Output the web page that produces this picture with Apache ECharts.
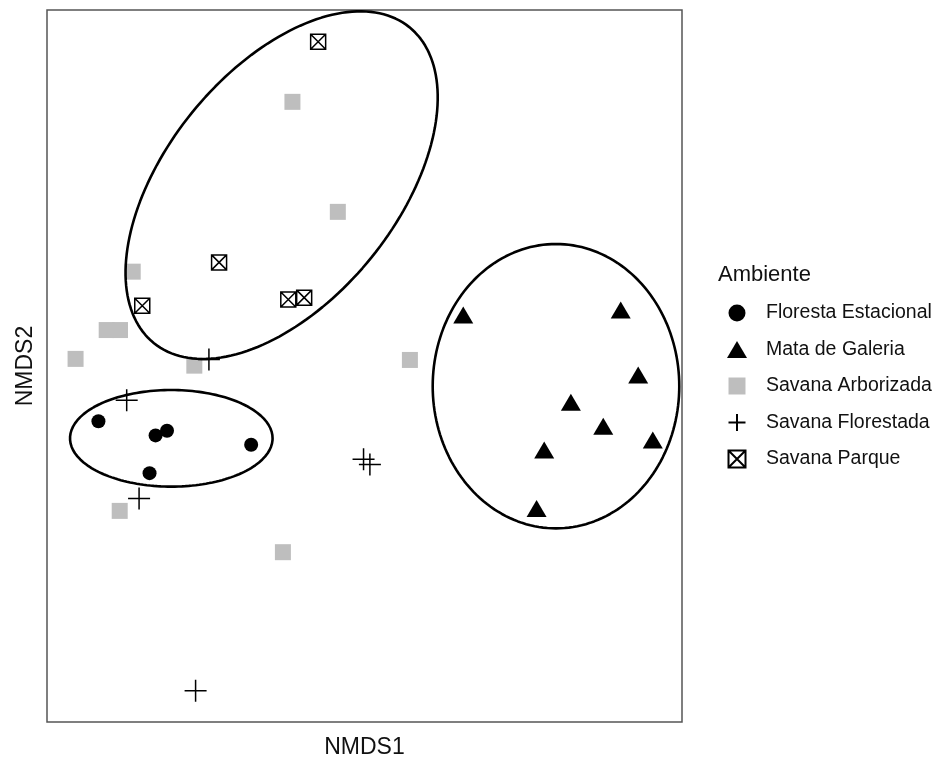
<!DOCTYPE html>
<html>
<head>
<meta charset="utf-8">
<script src="https://cdn.jsdelivr.net/npm/echarts@6/dist/echarts.min.js"></script>
<style>html,body{margin:0;padding:0;background:#fff}#c{width:935px;height:762px}</style>
</head>
<body>
<div id="c"></div>
<script>
// Ambientes (legend order)
var categories = ['Floresta Estacional', 'Mata de Galeria', 'Savana Arborizada', 'Savana Florestada', 'Savana Parque'];

// NMDS scores [NMDS1, NMDS2]
var florestaEstacional = [[-0.838,-0.155],[-0.658,-0.195],[-0.622,-0.182],[-0.357,-0.221],[-0.677,-0.301]];
var mataDeGaleria = [[0.311,0.143],[0.807,0.157],[0.862,-0.025],[0.650,-0.102],[0.752,-0.169],[0.908,-0.208],[0.566,-0.236],[0.542,-0.400]];
var savanaArborizada = [[-0.227,0.742],[-0.084,0.433],[-0.730,0.265],[-0.812,0.101],[-0.770,0.101],[-0.910,0.020],[-0.536,0.001],[0.143,0.017],[-0.771,-0.407],[-0.257,-0.523]];
var savanaFlorestada = [[-0.490,0.018],[-0.749,-0.096],[-0.710,-0.372],[-0.003,-0.262],[0.017,-0.277],[-0.532,-0.912]];
var savanaParque = [[-0.146,0.911],[-0.458,0.291],[-0.700,0.169],[-0.240,0.187],[-0.190,0.192]];

// Ellipses: centre, first and second conjugate semi-diameter vectors (NMDS units)
var ellipseFloresta = {c: [-0.6085, -0.2031], u: [0.319, 0], v: [0, 0.1357]};
var ellipseMata = {c: [0.6031, -0.0567], u: [0.3883, 0], v: [0, 0.3994]};
var ellipseParque = {c: [-0.261, 0.508], u: [0.402, 0.444], v: [0.283, -0.203]};

function ellipsePts(e) {
  var pts = [];
  for (var i = 0; i <= 180; i++) {
    var t = i / 180 * 2 * Math.PI;
    pts.push([e.c[0] + e.u[0] * Math.cos(t) + e.v[0] * Math.sin(t),
              e.c[1] + e.u[1] * Math.cos(t) + e.v[1] * Math.sin(t)]);
  }
  return pts;
}

var crossPath = 'path://M0,11L22,11M11,0L11,22';
var boxXPath = 'path://M0,0L16,0L16,16L0,16Z M0,0L16,16 M16,0L0,16';
var squarePath = 'path://M0,0L16,0L16,16L0,16Z';

var chart = echarts.init(document.getElementById('c'), null, {renderer: 'canvas'});
var font = '"Liberation Sans", Arial, sans-serif';

function ellSeries(e) {
  return {
    type: 'line', data: ellipsePts(e), showSymbol: false, symbol: 'none', smooth: false,
    lineStyle: {color: '#000', width: 2.6}, z: 5, silent: true, legendHoverLink: false
  };
}

chart.setOption({
  animation: false,
  backgroundColor: '#fff',
  textStyle: {fontFamily: font},
  grid: {left: 47, top: 10, width: 635, height: 712, outerBoundsMode: 'none', containLabel: false,
         show: true, borderColor: '#555', borderWidth: 1.5, backgroundColor: 'transparent'},
  xAxis: {
    type: 'value', min: -1, max: 1, name: 'NMDS1', nameLocation: 'middle', nameGap: 14,
    nameTextStyle: {fontSize: 23, color: '#111', fontFamily: font},
    axisLine: {show: false}, axisTick: {show: false}, axisLabel: {show: false}, splitLine: {show: false}
  },
  yAxis: {
    type: 'value', min: -1, max: 1, name: 'NMDS2', nameLocation: 'middle', nameGap: 10,
    nameTextStyle: {fontSize: 23, color: '#111', fontFamily: font},
    axisLine: {show: false}, axisTick: {show: false}, axisLabel: {show: false}, splitLine: {show: false}
  },
  title: {
    text: 'Ambiente', left: 713, top: 259,
    textStyle: {fontSize: 22, fontWeight: 'normal', color: '#111', fontFamily: font}
  },
  legend: {
    data: [
      {name: categories[0]},
      {name: categories[1]},
      {name: categories[2], icon: squarePath},
      {name: categories[3]},
      {name: categories[4]}
    ],
    orient: 'vertical', left: 722, top: 298, itemWidth: 20, itemHeight: 17, itemGap: 16.5,
    textStyle: {fontSize: 19.5, lineHeight: 20, color: '#111', fontFamily: font, padding: [0, 0, 0, 14]},
    selectedMode: false
  },
  series: [
    {name: categories[0], type: 'scatter', data: florestaEstacional, symbol: 'circle', symbolSize: 14,
     itemStyle: {color: '#000', opacity: 1}, z: 3},
    {name: categories[1], type: 'scatter', data: mataDeGaleria, symbol: 'triangle', symbolSize: [20, 17],
     itemStyle: {color: '#000', opacity: 1}, z: 3},
    {name: categories[2], type: 'scatter', data: savanaArborizada, symbol: 'rect', symbolSize: 16,
     itemStyle: {color: '#bebebe', opacity: 1}, z: 2},
    {name: categories[3], type: 'scatter', data: savanaFlorestada, symbol: crossPath, symbolSize: 22,
     itemStyle: {color: 'rgba(0,0,0,0)', borderColor: '#000', borderWidth: 1.5, opacity: 1}, z: 3},
    {name: categories[4], type: 'scatter', data: savanaParque, symbol: boxXPath, symbolSize: 15,
     itemStyle: {color: '#fff', borderColor: '#000', borderWidth: 1.5, opacity: 1}, z: 3},
    ellSeries(ellipseFloresta),
    ellSeries(ellipseMata),
    ellSeries(ellipseParque)
  ]
});
</script>
</body>
</html>
